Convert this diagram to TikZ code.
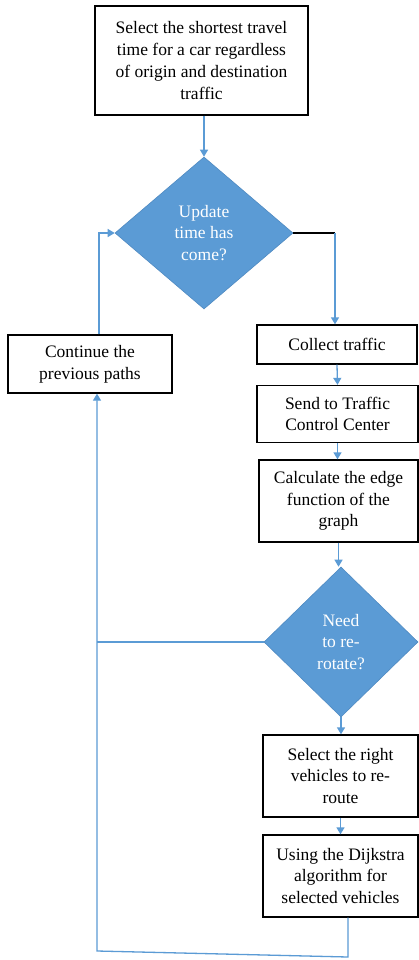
\documentclass[tikz,border=0pt]{standalone}
\usepackage{fontspec}
\setmainfont{Liberation Serif}
\usetikzlibrary{shapes.geometric,arrows.meta}
\definecolor{dblue}{HTML}{5B9BD5}
\definecolor{dedge}{HTML}{4F8AC2}
\begin{document}
\begin{tikzpicture}[x=1pt,y=-1pt,
  txt/.style={font=\fontsize{17.5}{21.7}\selectfont},
  box/.style={txt,draw=black,line width=1.3pt,align=center,inner sep=0pt,fill=white},
  dec/.style={txt,shape=diamond,fill=dblue,draw=dedge,line width=0.6pt,text=white,align=center,inner sep=0pt},
  conn/.style={draw=dblue,line width=1.3pt},
  arr/.style={conn,-{Triangle[width=8pt,length=7pt]}}]
\useasboundingbox (0,0) rectangle (419,960);
\fill[white] (0,0) rectangle (419,960);

\node[box,minimum width=213pt,minimum height=109pt] (top) at (201.5,60.5)
  {Select the shortest travel\\time for a car regardless\\of origin and destination\\traffic};
\node[dec,minimum width=178pt,minimum height=152pt] (d1) at (204,233)
  {Update\\time has\\come?};
\node[box,minimum width=164pt,minimum height=58pt] (cont) at (90,364)
  {Continue the\\previous paths};
\node[box,minimum width=160pt,minimum height=39pt] (collect) at (337,344.5)
  {Collect traffic};
\node[box,minimum width=161pt,minimum height=57pt] (send) at (337.5,414)
  {Send to Traffic\\Control Center};
\node[box,minimum width=159pt,minimum height=82pt] (calc) at (338.5,501)
  {Calculate the edge\\function of the\\graph};
\node[dec,minimum width=154pt,minimum height=150pt] (d2) at (341,642)
  {Need\\to re-\\rotate?};
\node[box,minimum width=155pt,minimum height=82pt] (sel) at (340.5,776)
  {Select the right\\vehicles to re-\\route};
\node[box,minimum width=155pt,minimum height=82pt] (dij) at (340.5,876)
  {Using the Dijkstra\\algorithm for\\selected vehicles};

\coordinate (c1) at (335,233);
\coordinate (lt) at (99,233);
\coordinate (lb) at (97,951);
\coordinate (rb) at (348,957);
\coordinate (lm) at (97,642);

\draw[arr] (d1.north |- top.south) -- (d1.north);
\draw[black,line width=1.3pt] (d1.east) -- (c1);
\draw[arr] (c1) -- (c1 |- collect.north);
\draw[arr] (collect.south) -- (send.north);
\draw[arr] (send.south) -- (send.south |- calc.north);
\draw[arr] (calc.south) -- (calc.south |- d2.north);
\draw[arr] (d2.south) -- (d2.south |- sel.north);
\draw[arr] (sel.south) -- (dij.north);
\draw[conn] (d2.west) -- (lm);
\draw[arr] (rb |- dij.south) -- (rb) -- (lb) -- (lb |- cont.south);
\draw[arr] (lt |- cont.north) -- (lt) -- (d1.west);
\end{tikzpicture}
\end{document}
